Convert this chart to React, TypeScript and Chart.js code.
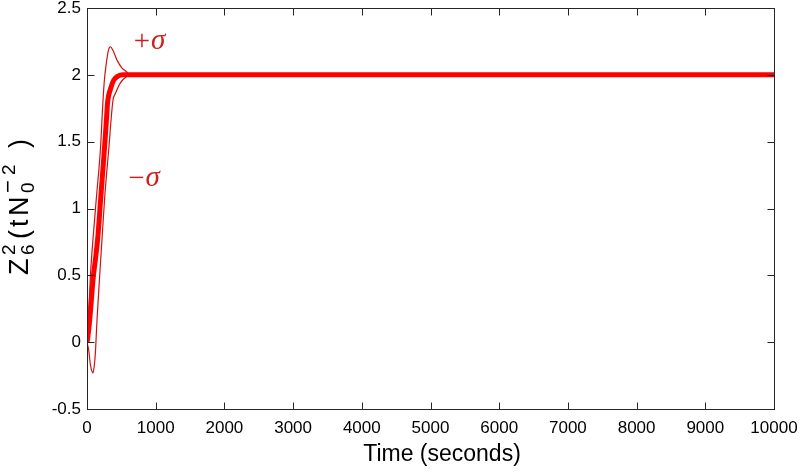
import React, { useEffect, useRef } from "react";
import { Chart, registerables } from "chart.js";

Chart.register(...registerables);

// ---- data ----
const xTickValues = [0, 1000, 2000, 3000, 4000, 5000, 6000, 7000, 8000, 9000, 10000];
const yTickValues = [-0.5, 0, 0.5, 1, 1.5, 2, 2.5];

const meanTime = [0, 15, 40, 90, 130, 160, 200, 253, 280, 301, 340, 389, 450, 520, 10000];
const meanValue = [0, 0.05, 0.17, 0.48, 0.65, 0.8, 1.08, 1.44, 1.64, 1.8, 1.89, 1.96, 1.99, 2.0, 2.0];

const plusTime = [0, 15, 50, 87, 140, 195, 233, 253, 282, 310, 340, 380, 437, 510, 582, 610, 10000];
const plusValue = [0, 0.1, 0.5, 0.77, 1.1, 1.44, 1.81, 1.96, 2.09, 2.18, 2.21, 2.18, 2.11, 2.05, 2.02, 2.0, 2.0];

const minusTime = [0, 25, 50, 87, 105, 122, 146, 185, 218, 260, 316, 378, 413, 486, 582, 610, 10000];
const minusValue = [0, -0.06, -0.17, -0.23, -0.18, -0.08, 0.17, 0.5, 0.77, 1.1, 1.44, 1.81, 1.86, 1.94, 1.99, 2.0, 2.0];

const plusLabelPos = { x: 680, y: 2.24 };
const minusLabelPos = { x: 600, y: 1.22 };

const xTitle = "Time (seconds)";

const SANS = "'Liberation Sans', Arial, Helvetica, sans-serif";
const SERIF = "'Liberation Serif', 'DejaVu Serif', serif";
const RED_TEXT = "#cc1f1f";

export default function App() {
  const ref = useRef<HTMLCanvasElement>(null);

  useEffect(() => {
    if (!ref.current) return;
    const toPts = (t: number[], v: number[]) => t.map((x, i) => ({ x, y: v[i] }));

    const framePlugin = {
      id: "frame",
      afterDraw(chart: any) {
        const { ctx, chartArea: a, scales } = chart;
        const xs = scales.x;
        const ys = scales.y;
        ctx.save();
        const L = Math.round(a.left) + 0.5;
        const R = Math.round(a.right) + 0.5;
        const T = Math.round(a.top) + 0.5;
        const B = Math.round(a.bottom) + 0.5;
        ctx.strokeStyle = "#262626";
        ctx.lineWidth = 1;
        ctx.strokeRect(L, T, R - L, B - T);
        const tl = 7;
        ctx.beginPath();
        for (const v of xTickValues) {
          const px = Math.round(xs.getPixelForValue(v)) + 0.5;
          ctx.moveTo(px, B);
          ctx.lineTo(px, B - tl);
          ctx.moveTo(px, T);
          ctx.lineTo(px, T + tl);
        }
        for (const v of yTickValues) {
          const py = Math.round(ys.getPixelForValue(v)) + 0.5;
          ctx.moveTo(L, py);
          ctx.lineTo(L + tl, py);
          ctx.moveTo(R, py);
          ctx.lineTo(R - tl, py);
        }
        ctx.stroke();

        // sigma annotations
        ctx.fillStyle = RED_TEXT;
        ctx.textBaseline = "middle";
        ctx.textAlign = "left";
        const drawSigma = (sign: string, pos: { x: number; y: number }) => {
          const px = xs.getPixelForValue(pos.x);
          const py = ys.getPixelForValue(pos.y);
          ctx.font = `29px ${SERIF}`;
          ctx.fillText(sign, px, py);
          const w = ctx.measureText(sign).width;
          ctx.font = `italic 29px ${SERIF}`;
          ctx.fillText("\u03c3", px + w + 1, py - 1);
        };
        drawSigma("+", plusLabelPos);
        drawSigma("\u2212", minusLabelPos);

        // x title
        ctx.fillStyle = "#000";
        ctx.font = `23px ${SANS}`;
        ctx.textAlign = "center";
        ctx.textBaseline = "middle";
        ctx.fillText(xTitle, 442, 455);

        // y title: Z_6^2(tN_0^{-2})
        ctx.save();
        ctx.translate(28, 276);
        ctx.rotate(-Math.PI / 2);
        ctx.textAlign = "left";
        ctx.textBaseline = "alphabetic";
        const big = `27px ${SANS}`;
        const small = `19px ${SANS}`;
        const put = (s: string, x: number, y: number, f: string) => {
          ctx.font = f;
          ctx.fillText(s, x, y);
        };
        put("Z", 1, 0, big);
        put("6", 21, 6, small);
        put("2", 21, -13, small);
        put("(", 37, 0, big);
        put("t", 49, 0, big);
        put("N", 60, 0, big);
        put("0", 83, 6, small);
        put("\u2212", 83, -13, `22px ${SANS}`);
        put("2", 101, -13, small);
        put(")", 128, 0, big);
        ctx.restore();

        ctx.restore();
      },
    };

    const chart = new Chart(ref.current, {
      type: "line",
      data: {
        datasets: [
          {
            label: "mean",
            data: toPts(meanTime, meanValue),
            borderColor: "#ff0000",
            borderWidth: 5,
            pointRadius: 0,
            cubicInterpolationMode: "monotone",
            fill: false,
            order: 0,
          },
          {
            label: "+sigma",
            data: toPts(plusTime, plusValue),
            borderColor: "#d41010",
            borderWidth: 1.2,
            pointRadius: 0,
            cubicInterpolationMode: "monotone",
            fill: false,
            order: 1,
          },
          {
            label: "-sigma",
            data: toPts(minusTime, minusValue),
            borderColor: "#d41010",
            borderWidth: 1.2,
            pointRadius: 0,
            cubicInterpolationMode: "monotone",
            fill: false,
            order: 1,
          },
        ],
      },
      options: {
        animation: false,
        responsive: false,
        maintainAspectRatio: false,
        layout: { padding: { top: 8, right: 26, left: 0, bottom: 0 } },
        plugins: { legend: { display: false }, tooltip: { enabled: false }, title: { display: false } },
        scales: {
          x: {
            type: "linear",
            min: 0,
            max: 10000,
            afterBuildTicks: (s: any) => {
              s.ticks = xTickValues.map((v) => ({ value: v }));
            },
            afterFit: (s: any) => {
              s.height = 63;
              s.paddingLeft = 0;
              s.paddingRight = 0;
            },
            grid: { display: false, drawTicks: false },
            border: { display: false },
            ticks: {
              color: "#000",
              font: { family: SANS, size: 17 },
              padding: 9,
              maxRotation: 0,
              autoSkip: false,
              callback: (v: any) => String(v),
            },
          },
          y: {
            type: "linear",
            min: -0.5,
            max: 2.5,
            afterBuildTicks: (s: any) => {
              s.ticks = yTickValues.map((v) => ({ value: v }));
            },
            afterFit: (s: any) => {
              s.width = 87;
              s.paddingTop = 0;
              s.paddingBottom = 0;
            },
            grid: { display: false, drawTicks: false },
            border: { display: false },
            ticks: {
              color: "#000",
              font: { family: SANS, size: 17 },
              padding: 6,
              autoSkip: false,
              callback: (v: any) => String(v),
            },
          },
        },
      },
      plugins: [framePlugin],
    } as any);

    return () => chart.destroy();
  }, []);

  return (
    <div style={{ position: "absolute", left: 0, top: 0, width: 800, height: 472, background: "#fff" }}>
      <canvas ref={ref} width={800} height={472} style={{ display: "block", width: 800, height: 472 }} />
    </div>
  );
}
